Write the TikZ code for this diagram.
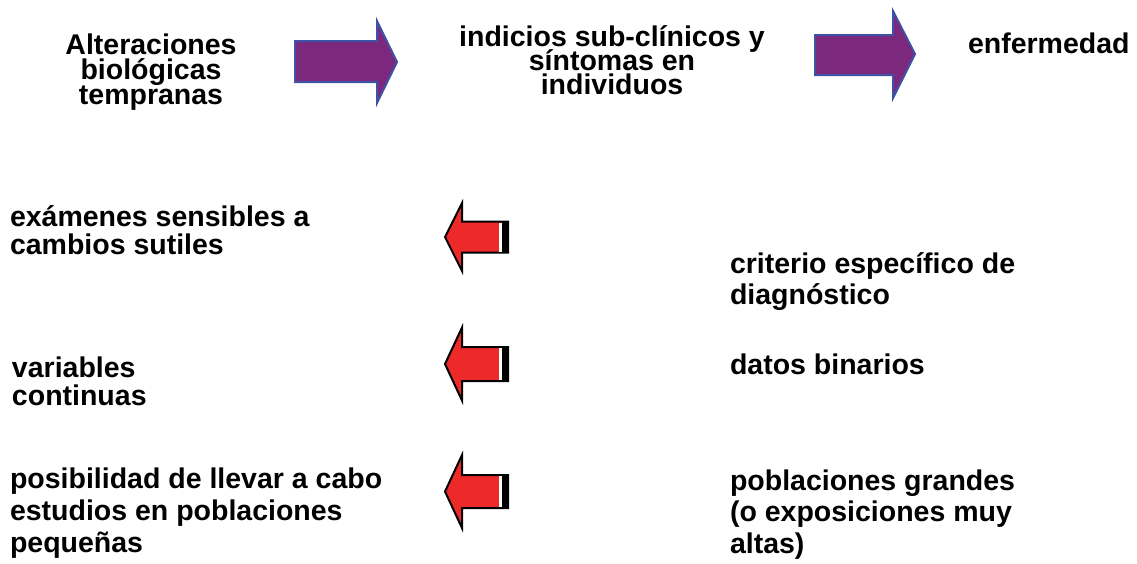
\documentclass[tikz,border=0pt]{standalone}
\usepackage{fontspec}
\setmainfont{Liberation Sans}
\definecolor{purplefill}{RGB}{123,40,125}
\definecolor{blueline}{RGB}{63,81,165}
\definecolor{redfill}{RGB}{237,41,41}
\newcommand{\arrowfont}[1]{\bfseries\fontsize{28.5}{#1}\selectfont\lineskiplimit=-100pt\relax}
\tikzset{
  lbl/.style={inner sep=0pt, outer sep=0pt, anchor=base west, align=left, font=\arrowfont{28}},
  clbl/.style={inner sep=0pt, outer sep=0pt, anchor=base, align=center, font=\arrowfont{24}},
  bigarrow/.style={fill=purplefill, draw=blueline, line width=2pt, line join=miter},
  redarrow/.style={fill=redfill, draw=black, line width=2pt, line join=miter},
}
\begin{document}
\begin{tikzpicture}[x=1pt,y=-1pt]
\useasboundingbox (0,0) rectangle (1137,563);
% purple arrows
\draw[bigarrow] (295,41) -- (377,41) -- (377,21) -- (397,62) -- (377,103) -- (377,82) -- (295,82) -- cycle;
\draw[bigarrow] (815,35) -- (893,35) -- (893,11) -- (915,54) -- (893,98) -- (893,75) -- (815,75) -- cycle;
% red arrows
\foreach \cy/\hh/\bh in {237/34/15.5, 364/36.5/17, 491.5/36.5/16.5}{
  \draw[redarrow] (445,\cy) -- (462,\cy-\hh) -- (462,\cy-\bh) -- (508,\cy-\bh) -- (508,\cy+\bh) -- (462,\cy+\bh) -- (462,\cy+\hh) -- cycle;
  \fill[white] (498.5,\cy-\bh+1) rectangle (501.5,\cy+\bh-1);
  \fill[black] (501.5,\cy-\bh) rectangle (508,\cy+\bh);
}
% texts (base anchor = baseline of the last line)
\node[clbl, font=\arrowfont{25}] (a) at (151,104) {Alteraciones\\biológicas\\tempranas};
\node[clbl] (b) at (612,94) {indicios sub-clínicos y\\síntomas en\\individuos};
\node[lbl] (c) at (968,53) {enfermedad};
\node[lbl] (d) at (10,254) {exámenes sensibles a\\cambios sutiles};
\node[lbl, font=\arrowfont{31}] (e) at (730,304) {criterio específico de\\diagnóstico};
\node[lbl] (f) at (12,405) {variables\\continuas};
\node[lbl] (g) at (730,374) {datos binarios};
\node[lbl, font=\arrowfont{32}] (h) at (10,552) {posibilidad de llevar a cabo\\estudios en poblaciones\\pequeñas};
\node[lbl, font=\arrowfont{31.5}] (i) at (730,553) {poblaciones grandes\\(o exposiciones muy\\altas)};
\end{tikzpicture}
\end{document}
